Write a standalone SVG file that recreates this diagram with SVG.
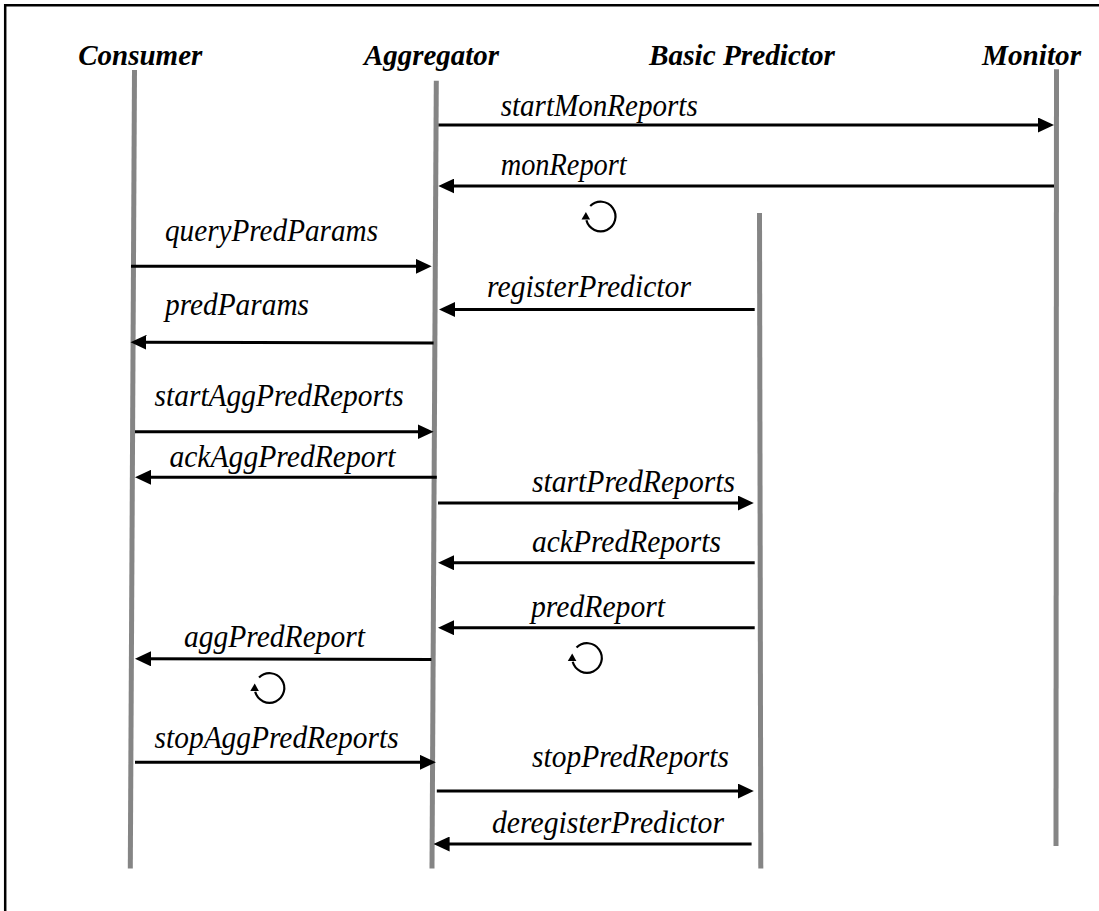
<svg xmlns="http://www.w3.org/2000/svg" width="1099" height="911" viewBox="0 0 1099 911">
  <style>
    .frame { fill: none; stroke: #000; stroke-width: 2.5; }
    .life { stroke: #858585; stroke-width: 5; fill: none; }
    .head { font-family: "Liberation Serif", "Times New Roman", serif; font-size: 29.5px; font-weight: bold; font-style: italic; fill: #000; }
    .lbl { font-family: "Liberation Serif", "Times New Roman", serif; font-size: 32px; font-style: italic; fill: #000; }
    .msg { stroke: #000; stroke-width: 3; fill: none; marker-end: url(#ah); }
    .loop { stroke: #000; stroke-width: 2.2; fill: none; }
    .loophead { fill: #000; }
  </style>
  <defs>
    <marker id="ah" markerUnits="userSpaceOnUse" viewBox="0 0 16 15" refX="8" refY="7.5" markerWidth="16" markerHeight="15" orient="auto">
      <path d="M0,0 L16,7.5 L0,15 Z" fill="#000"/>
    </marker>
    <!-- self-loop glyph: clockwise arc with a small arrowhead at the left -->
    <g id="loop">
      <path class="loop" d="M-10.47,-10.47 A14.8,14.8 0 1 1 -14.3,3.83"/>
      <path class="loophead" d="M-14.8,-4.5 L-19.2,3 L-10.6,3 Z"/>
    </g>
  </defs>

  <rect width="1099" height="911" fill="#fff"/>
  <path class="frame" d="M5.2,911 V5.2 H1099"/>

  <g id="consumer">
    <text class="head" x="78.3" y="64.5" textLength="124" lengthAdjust="spacingAndGlyphs">Consumer</text>
    <line class="life" x1="134.5" y1="70" x2="130.3" y2="868.5"/>
  </g>

  <g id="aggregator">
    <text class="head" x="364" y="64.5" textLength="135" lengthAdjust="spacingAndGlyphs">Aggregator</text>
    <line class="life" x1="436.3" y1="80.7" x2="432" y2="868.5"/>
  </g>

  <g id="basic-predictor">
    <text class="head" x="649" y="64.5" textLength="186" lengthAdjust="spacingAndGlyphs">Basic Predictor</text>
    <line class="life" x1="759.5" y1="213" x2="760.8" y2="868.5"/>
  </g>

  <g id="monitor">
    <text class="head" x="982" y="64.5" textLength="99" lengthAdjust="spacingAndGlyphs">Monitor</text>
    <line class="life" x1="1056.5" y1="69.3" x2="1056" y2="846"/>
  </g>

  <g id="connectors">
    <line class="msg" x1="438.5" y1="125" x2="1046" y2="125"/>
    <text class="lbl" x="500.7" y="116" textLength="197" lengthAdjust="spacingAndGlyphs">startMonReports</text>

    <line class="msg" x1="1054" y1="186" x2="446.3" y2="186"/>
    <text class="lbl" x="500.7" y="175" textLength="126" lengthAdjust="spacingAndGlyphs">monReport</text>
    <use href="#loop" x="600.7" y="216.5"/>

    <line class="msg" x1="131" y1="266.3" x2="423.7" y2="266.3"/>
    <text class="lbl" x="165" y="240.5" textLength="213" lengthAdjust="spacingAndGlyphs">queryPredParams</text>

    <line class="msg" x1="754.7" y1="309.5" x2="447" y2="309.5"/>
    <text class="lbl" x="487" y="297" textLength="204" lengthAdjust="spacingAndGlyphs">registerPredictor</text>

    <line class="msg" x1="433.6" y1="343" x2="138.5" y2="342.3"/>
    <text class="lbl" x="165" y="315" textLength="144" lengthAdjust="spacingAndGlyphs">predParams</text>

    <line class="msg" x1="135" y1="431.7" x2="425.6" y2="431.7"/>
    <text class="lbl" x="154.6" y="405.7" textLength="249" lengthAdjust="spacingAndGlyphs">startAggPredReports</text>

    <line class="msg" x1="436.8" y1="477.3" x2="143" y2="477.3"/>
    <text class="lbl" x="169.4" y="466.7" textLength="226" lengthAdjust="spacingAndGlyphs">ackAggPredReport</text>

    <line class="msg" x1="438" y1="503" x2="745.8" y2="503"/>
    <text class="lbl" x="532" y="491.7" textLength="203" lengthAdjust="spacingAndGlyphs">startPredReports</text>

    <line class="msg" x1="754.7" y1="562.7" x2="446" y2="562.7"/>
    <text class="lbl" x="532" y="551.7" textLength="189" lengthAdjust="spacingAndGlyphs">ackPredReports</text>

    <line class="msg" x1="754.7" y1="627.7" x2="446" y2="627.7"/>
    <text class="lbl" x="531" y="616.7" textLength="134" lengthAdjust="spacingAndGlyphs">predReport</text>
    <use href="#loop" x="587" y="658"/>

    <line class="msg" x1="431.4" y1="659.6" x2="143" y2="658.8"/>
    <text class="lbl" x="184" y="646.7" textLength="181" lengthAdjust="spacingAndGlyphs">aggPredReport</text>
    <use href="#loop" x="269.5" y="688"/>

    <line class="msg" x1="135" y1="762.3" x2="427.9" y2="762.3"/>
    <text class="lbl" x="154.6" y="748.3" textLength="244" lengthAdjust="spacingAndGlyphs">stopAggPredReports</text>

    <line class="msg" x1="436.8" y1="791" x2="745.8" y2="791"/>
    <text class="lbl" x="532" y="766.7" textLength="197" lengthAdjust="spacingAndGlyphs">stopPredReports</text>

    <line class="msg" x1="751.6" y1="844" x2="441.6" y2="844"/>
    <text class="lbl" x="492" y="833.3" textLength="232" lengthAdjust="spacingAndGlyphs">deregisterPredictor</text>
  </g>
</svg>
